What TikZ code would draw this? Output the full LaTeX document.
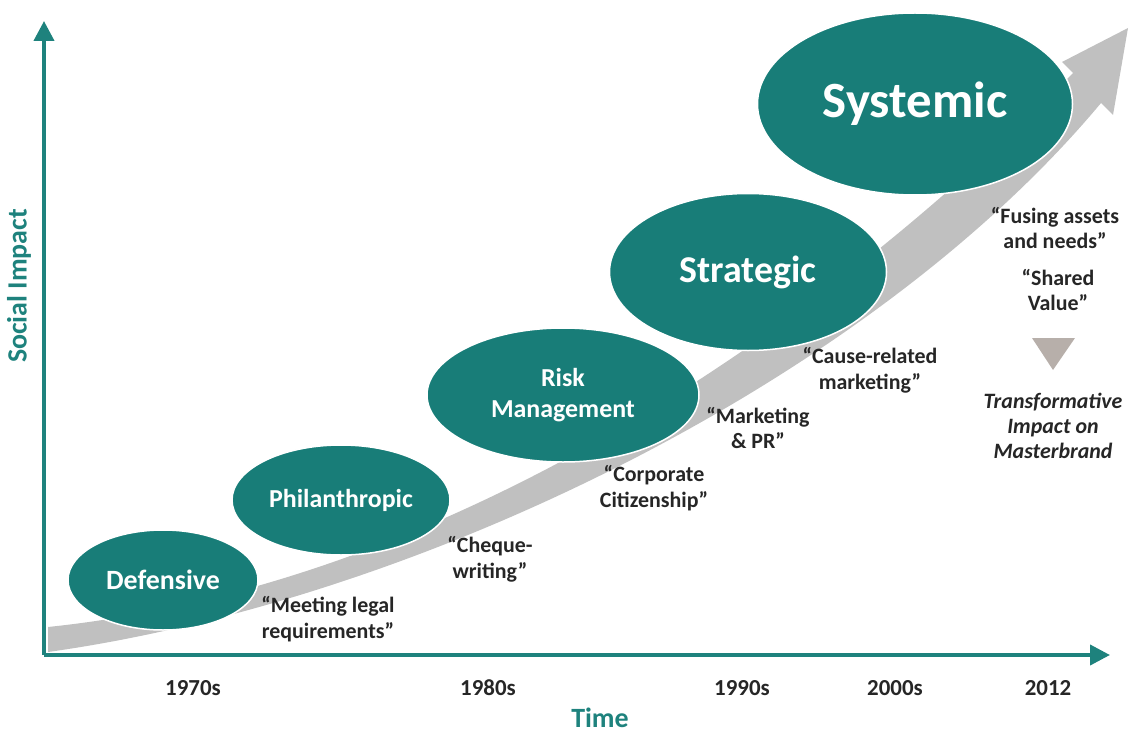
\documentclass[tikz,border=0pt]{standalone}
\usepackage{fontspec}
\setmainfont{Carlito}
\usetikzlibrary{shapes.geometric,arrows.meta}
\definecolor{stageteal}{RGB}{24,125,120}
\definecolor{axisteal}{RGB}{30,130,125}
\definecolor{bandgray}{RGB}{192,192,192}
\definecolor{markgray}{RGB}{183,175,170}
\begin{document}
\begin{tikzpicture}[x=1bp,y=-1bp,
  stage/.style={ellipse, fill=stageteal, draw=white, line width=1.5bp, inner sep=0pt,
    text=white, align=center},
  quote/.style={font=\fontsize{22}{26}\selectfont\bfseries, text=black!85, align=center},
  year/.style={font=\fontsize{23}{26}\selectfont\bfseries, text=black!85},
  axislabel/.style={font=\fontsize{28}{30}\selectfont\bfseries, text=axisteal},
  axisline/.style={draw=axisteal, line width=4bp, -{Triangle[length=20bp,width=20bp]}}]

% page frame
\useasboundingbox (0,0) rectangle (1131,733);

% growth band with its arrow head
\fill[bandgray] (48,652) .. controls (420,600) and (870,380) .. (1101,103)
  -- (1113,115) -- (1128,28) -- (1062,62) -- (1073,73)
  .. controls (820,330) and (450,585) .. (48,627) -- cycle;

% axes
\coordinate (origin) at (44,655);
\coordinate (ytip) at (44,21);
\coordinate (xtip) at (1110,655);
\draw[axisline] (origin) -- (ytip);
\draw[axisline] (origin) -- (xtip);
\node[axislabel, rotate=90] (ylab) at (19,286) {Social Impact};
\node[axislabel] (xlab) at (600,718) {Time};

% stages
\node[stage, minimum width=190bp, minimum height=100bp,
  font=\fontsize{28}{32}\selectfont\bfseries] (def) at (163,580) {Defensive};
\node[stage, minimum width=218bp, minimum height=110bp,
  font=\fontsize{26}{30}\selectfont\bfseries] (phil) at (341,500) {Philanthropic};
\node[stage, minimum width=272bp, minimum height=134bp,
  font=\fontsize{26}{31}\selectfont\bfseries] (risk) at (563,395) {Risk\\Management};
\node[stage, minimum width=277bp, minimum height=157bp,
  font=\fontsize{38}{42}\selectfont\bfseries] (strat) at (748,272) {Strategic};
\node[stage, minimum width=315bp, minimum height=182bp,
  font=\fontsize{51}{56}\selectfont\bfseries] (sys) at (915,104) {Systemic};

% descriptions
\node[quote] (q1) at (328,619) {“Meeting legal\\requirements”};
\node[quote] (q2) at (490,559) {“Cheque-\\writing”};
\node[quote] (q3) at (654,488) {“Corporate\\Citizenship”};
\node[quote] (q4) at (758,428) {“Marketing\\\& PR”};
\node[quote] (q5) at (870,370) {“Cause-related\\marketing”};
\node[quote] (q6) at (1055,228) {“Fusing assets\\and needs”};
\node[quote] (q7) at (1058,290) {“Shared\\Value”};

% marker and outcome
\fill[markgray] (1032,338) -- (1075,338) -- (1053,370) -- cycle;
\node[quote, font=\fontsize{22}{25}\selectfont\bfseries\itshape] (out) at (1053,426)
  {Transformative\\Impact on\\Masterbrand};

% time labels
\node[year] (y70) at (193,688) {1970s};
\node[year] (y80) at (488,688) {1980s};
\node[year] (y90) at (742,688) {1990s};
\node[year] (y00) at (895,688) {2000s};
\node[year] (y12) at (1048,688) {2012};
\end{tikzpicture}
\end{document}
